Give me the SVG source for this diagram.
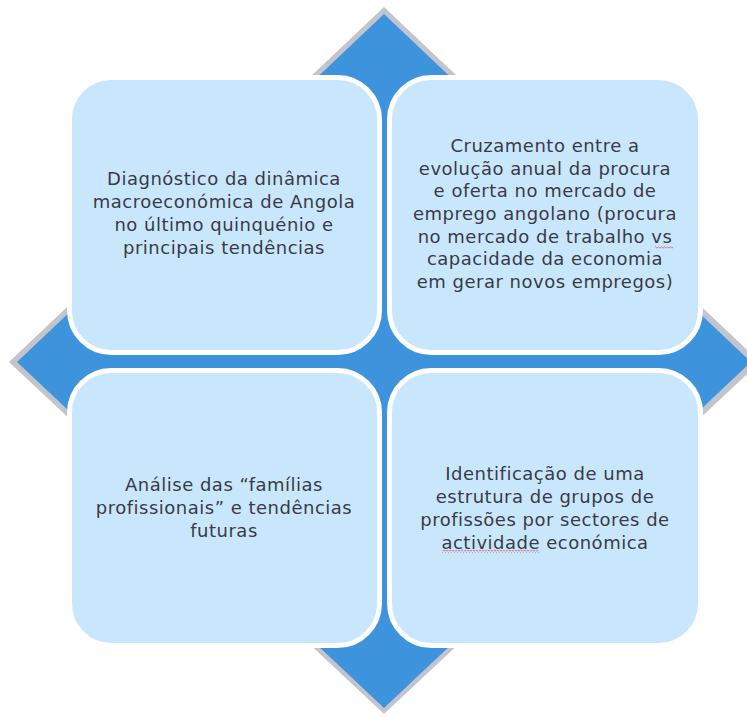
<svg xmlns="http://www.w3.org/2000/svg" width="747" height="717" viewBox="0 0 747 717">
<style>
.box{fill:#C9E7FC;stroke:#FFFFFF;stroke-width:5}
.t{font-family:"DejaVu Sans","Liberation Sans",sans-serif;font-size:18px;letter-spacing:0.5px;fill:#3A3B45;text-anchor:middle}
</style>
<defs>
<pattern id="wave" x="0" y="0" width="3" height="3" patternUnits="userSpaceOnUse">
<path d="M0,2.2 L1.5,0.8 L3,2.2" fill="none" stroke="#E04040" stroke-width="0.7"/>
</pattern>
</defs>
<rect width="747" height="717" fill="#FFFFFF"/>
<g id="diamond">
<polygon points="384,7 9,362 384,714 760,362" fill="#C4C4CC"/>
<polygon points="384,14 17,362 384,708 751,362" fill="#3D94DC"/>
</g>
<g id="node1">
<rect class="box" x="69.5" y="77.5" width="310" height="275" rx="42"/>
<text class="t"><tspan x="224" y="185">Diagnóstico da dinâmica</tspan><tspan x="224" y="208">macroeconómica de Angola</tspan><tspan x="224" y="231">no último quinquénio e</tspan><tspan x="224" y="254">principais tendências</tspan></text>
</g>
<g id="node2">
<rect class="box" x="389.5" y="77.5" width="311" height="275" rx="42"/>
<text class="t"><tspan x="545" y="152">Cruzamento entre a</tspan><tspan x="545" y="175">evolução anual da procura</tspan><tspan x="545" y="197">e oferta no mercado de</tspan><tspan x="545" y="220">emprego angolano (procura</tspan><tspan x="545" y="243">no mercado de trabalho vs</tspan><tspan x="545" y="265">capacidade da economia</tspan><tspan x="545" y="288">em gerar novos empregos)</tspan></text>
<rect x="655" y="246" width="18" height="3" fill="url(#wave)"/>
</g>
<g id="node3">
<rect class="box" x="69.5" y="370.5" width="310" height="275" rx="42"/>
<text class="t"><tspan x="224" y="491">Análise das “famílias</tspan><tspan x="224" y="514">profissionais” e tendências</tspan><tspan x="224" y="537">futuras</tspan></text>
</g>
<g id="node4">
<rect class="box" x="389.5" y="370.5" width="311" height="275" rx="42"/>
<text class="t"><tspan x="545" y="480">Identificação de uma</tspan><tspan x="545" y="503">estrutura de grupos de</tspan><tspan x="545" y="526">profissões por sectores de</tspan><tspan x="545" y="549">actividade económica</tspan></text>
<rect x="442" y="550" width="97" height="3" fill="url(#wave)"/>
</g>
</svg>
